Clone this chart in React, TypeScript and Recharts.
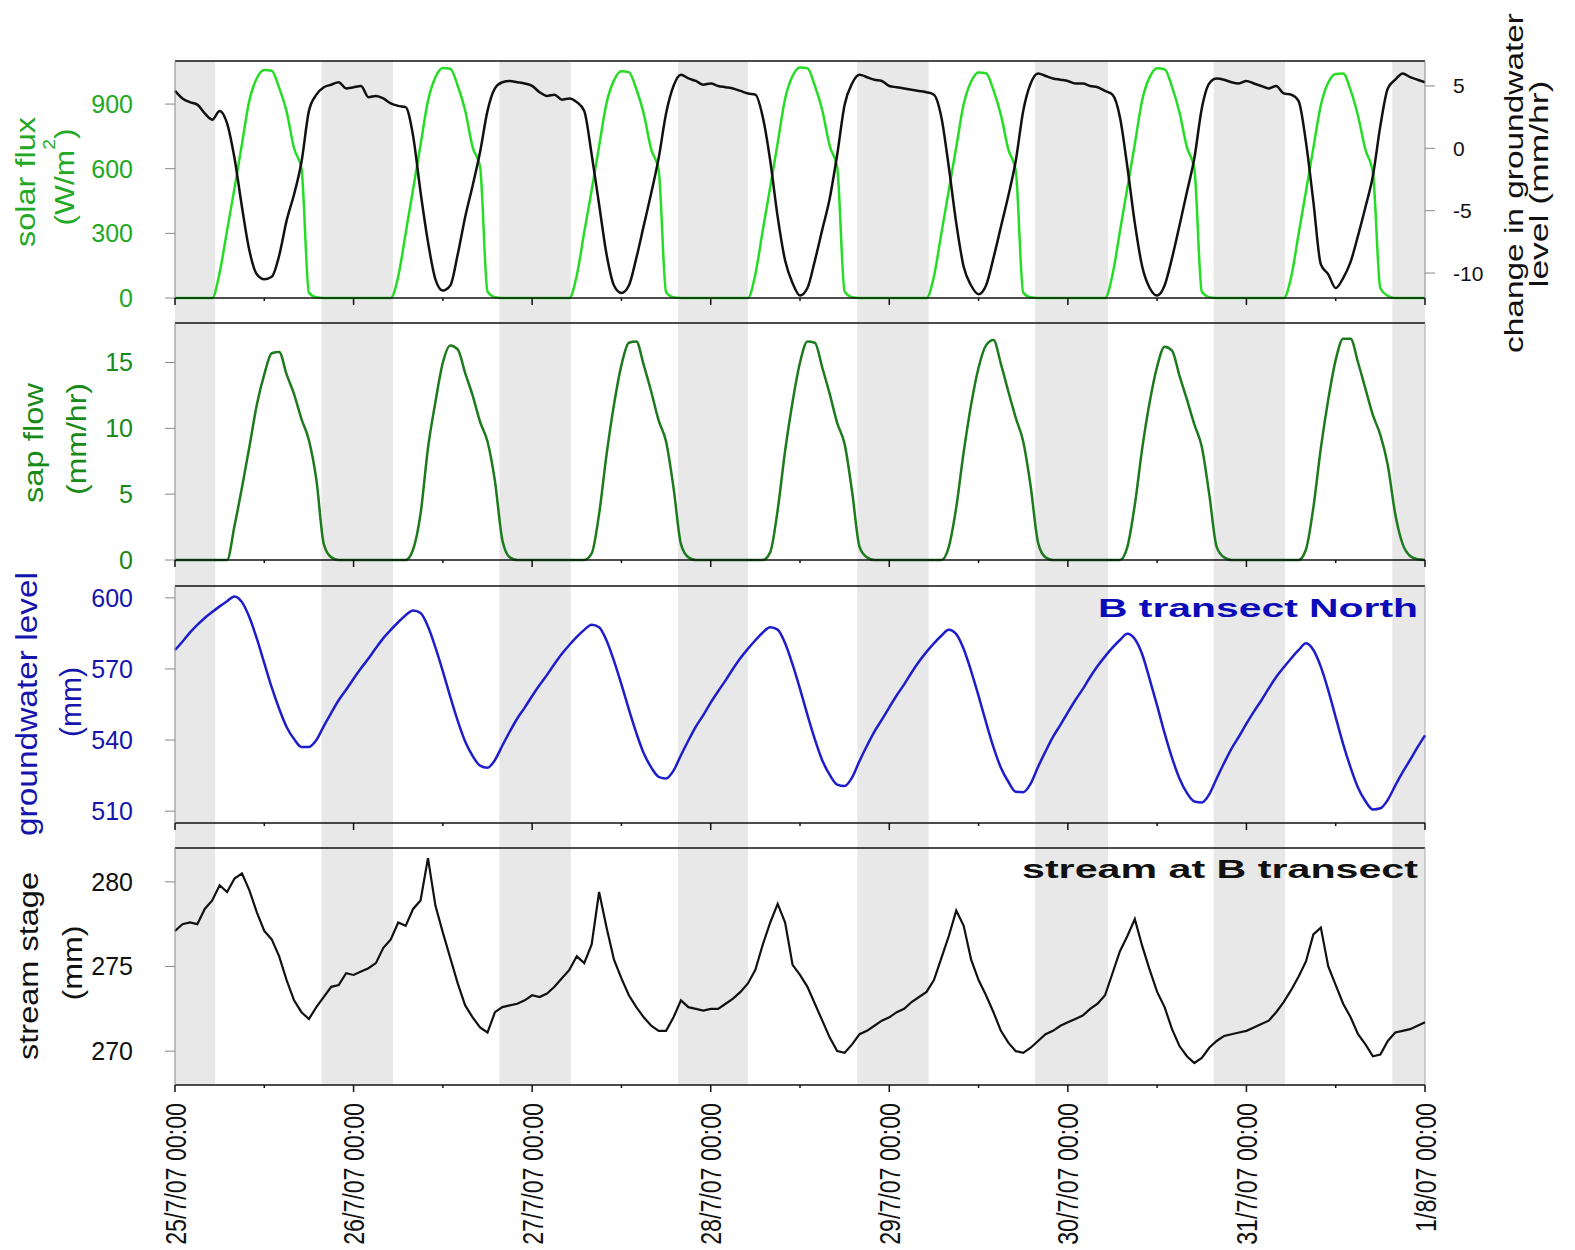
import React from "react"
import {
  Line,
  LineChart,
  ReferenceArea,
  ReferenceLine,
  XAxis,
  YAxis,
} from "recharts"

// Hourly samples from 25/7/07 00:00 to 1/8/07 00:00 (169 points, one row per day).
const solarFlux = [
  0, 0, 0, 0, 0, 0, 118, 314, 510, 715, 918, 1020, 1058, 1055, 975, 865, 695, 600, 25, 3, 0, 0, 0, 0,
  0, 0, 0, 0, 0, 0, 100, 300, 505, 710, 915, 1025, 1068, 1064, 985, 870, 700, 610, 30, 4, 0, 0, 0, 0,
  0, 0, 0, 0, 0, 0, 105, 305, 500, 705, 905, 1010, 1052, 1048, 970, 855, 690, 595, 28, 3, 0, 0, 0, 0,
  0, 0, 0, 0, 0, 0, 110, 315, 515, 720, 925, 1030, 1070, 1066, 985, 870, 705, 605, 30, 4, 0, 0, 0, 0,
  0, 0, 0, 0, 0, 0, 100, 300, 500, 700, 900, 1005, 1047, 1043, 965, 850, 690, 590, 25, 3, 0, 0, 0, 0,
  0, 0, 0, 0, 0, 0, 108, 310, 512, 715, 920, 1025, 1066, 1062, 980, 862, 700, 600, 30, 4, 0, 0, 0, 0,
  0, 0, 0, 0, 0, 0, 95, 295, 495, 698, 895, 1000, 1040, 1042, 965, 845, 688, 581, 45, 10, 0, 0, 0, 0,
  0,
]

// change in groundwater level, mm/hr
const gwChange = [
  4.6, 4.0, 3.7, 3.5, 2.8, 2.3, 3.0, 2.0, -0.8, -4.7, -8.2, -10.1, -10.5, -10.3, -8.6, -5.8, -3.7, -1.1, 3.0, 4.3, 4.9, 5.1, 5.3, 4.8,
  4.9, 5.0, 4.1, 4.2, 4.0, 3.6, 3.4, 3.3, 1.0, -3.5, -7.5, -10.5, -11.4, -11.0, -8.5, -5.5, -3.0, -0.3, 3.0, 4.8, 5.3, 5.4, 5.3, 5.2,
  5.0, 4.5, 4.2, 4.3, 3.9, 4.0, 3.7, 3.0, -0.5, -4.5, -8.5, -11.0, -11.6, -11.0, -8.8, -6.2, -3.6, -0.8, 2.8, 5.0, 5.9, 5.6, 5.4, 5.1,
  5.2, 5.0, 4.9, 4.8, 4.6, 4.4, 4.3, 2.5, -1.0, -5.5, -9.0, -10.8, -11.8, -11.2, -9.0, -6.5, -4.0, -0.5, 3.5, 5.2, 5.9, 5.7, 5.5, 5.4,
  5.0, 4.9, 4.8, 4.7, 4.6, 4.5, 4.3, 2.5, -1.5, -6.0, -9.5, -11.0, -11.7, -11.0, -8.8, -6.3, -3.8, -1.0, 3.0, 5.2, 6.0, 5.8, 5.6, 5.5,
  5.4, 5.2, 5.2, 5.0, 4.9, 4.6, 4.3, 2.5, -1.5, -6.0, -9.5, -11.2, -11.8, -11.0, -8.8, -6.2, -3.5, -0.8, 3.2, 5.2, 5.6, 5.5, 5.3, 5.2,
  5.4, 5.2, 5.0, 4.8, 5.0, 4.4, 4.3, 3.8, 0.5, -4.3, -9.3, -10.1, -11.2, -10.4, -9.1, -7.0, -4.7, -2.2, 1.8, 4.8, 5.5, 6.0, 5.7, 5.5,
  5.3,
]

// sap flow, mm/hr
const sapFlow = [
  0, 0, 0, 0, 0, 0, 0, 0, 2.6, 5.5, 8.6, 11.8, 14.1, 15.7, 15.8, 14.1, 12.6, 10.7, 9.1, 6.1, 1.2, 0.2, 0, 0,
  0, 0, 0, 0, 0, 0, 0, 0, 0.8, 3.5, 8.5, 12.0, 15.0, 16.3, 16.0, 14.2, 12.5, 10.5, 9.0, 6.0, 1.5, 0.2, 0, 0,
  0, 0, 0, 0, 0, 0, 0, 0, 0.5, 3.5, 8.0, 11.8, 14.8, 16.5, 16.6, 14.8, 12.8, 10.6, 9.0, 5.5, 1.2, 0.2, 0, 0,
  0, 0, 0, 0, 0, 0, 0, 0, 0.6, 3.8, 8.3, 12.0, 15.0, 16.6, 16.5, 14.6, 12.6, 10.4, 8.8, 5.2, 1.0, 0.2, 0, 0,
  0, 0, 0, 0, 0, 0, 0, 0, 1.0, 4.0, 8.2, 11.8, 14.6, 16.3, 16.7, 14.9, 12.8, 10.8, 9.0, 5.6, 1.3, 0.2, 0, 0,
  0, 0, 0, 0, 0, 0, 0, 0, 1.0, 4.2, 8.5, 12.0, 14.7, 16.2, 15.9, 14.0, 12.2, 10.3, 8.6, 5.0, 1.0, 0.2, 0, 0,
  0, 0, 0, 0, 0, 0, 0, 0, 0.8, 4.0, 8.5, 12.2, 15.2, 16.8, 16.8, 15.0, 13.0, 11.0, 9.5, 7.2, 3.5, 1.2, 0.3, 0.05,
  0,
]

// groundwater level, mm
const groundwater = [
  578.0, 581.5, 585.3, 588.6, 591.5, 594.0, 596.4, 598.6, 600.6, 598.2, 591.8, 582.8, 572.5, 562.2, 553.2, 545.5, 540.4, 537.1, 537.1, 540.0, 545.9, 551.5, 556.8, 561.2,
  565.9, 570.3, 574.4, 578.8, 583.0, 586.5, 589.7, 592.7, 594.7, 593.6, 587.9, 579.1, 569.0, 558.2, 548.1, 539.4, 533.3, 529.2, 528.3, 531.6, 537.7, 543.6, 549.1, 553.7,
  558.6, 563.2, 567.5, 572.1, 576.4, 580.1, 583.5, 586.5, 588.7, 587.6, 582.0, 573.4, 563.5, 552.9, 543.0, 534.4, 528.5, 524.5, 523.8, 527.1, 533.6, 539.8, 545.7, 550.5,
  555.8, 560.6, 565.2, 570.1, 574.6, 578.5, 582.1, 585.4, 587.6, 586.6, 580.8, 571.9, 561.6, 550.6, 540.3, 531.4, 525.3, 521.2, 520.6, 524.2, 531.2, 537.6, 543.6, 548.6,
  553.8, 558.9, 563.5, 568.5, 573.1, 577.2, 580.8, 584.0, 586.5, 584.7, 578.4, 569.1, 558.6, 547.5, 537.0, 528.3, 522.4, 518.2, 518.0, 521.6, 528.7, 535.2, 541.3, 546.4,
  551.7, 556.8, 561.5, 566.6, 571.2, 575.3, 579.0, 582.2, 584.8, 582.6, 576.1, 565.6, 554.5, 542.9, 532.5, 523.8, 517.7, 514.1, 513.7, 517.1, 523.8, 530.3, 536.4, 541.5,
  546.9, 552.0, 556.7, 561.8, 566.6, 570.6, 574.4, 577.9, 580.8, 578.0, 570.9, 561.0, 549.6, 538.3, 528.4, 519.9, 514.2, 510.7, 511.2, 514.8, 520.8, 526.5, 531.6, 537.0,
  542.0,
]

// stream stage, mm
const streamStage = [
  277.1, 277.5, 277.6, 277.5, 278.4, 278.9, 279.8, 279.4, 280.2, 280.5, 279.5, 278.2, 277.1, 276.6, 275.6, 274.2, 273.0, 272.3, 271.9, 272.6, 273.2, 273.8, 273.9, 274.6,
  274.5, 274.7, 274.9, 275.2, 276.1, 276.6, 277.6, 277.4, 278.4, 278.9, 281.4, 278.6, 277.0, 275.5, 274.0, 272.7, 272.0, 271.4, 271.1, 272.3, 272.6, 272.7, 272.8, 273.0,
  273.3, 273.2, 273.4, 273.8, 274.3, 274.8, 275.6, 275.2, 276.3, 279.4, 277.3, 275.4, 274.3, 273.3, 272.6, 272.0, 271.5, 271.2, 271.2, 272.0, 273.0, 272.6, 272.5, 272.4,
  272.5, 272.5, 272.8, 273.1, 273.5, 274.0, 274.8, 276.3, 277.6, 278.7, 277.6, 275.1, 274.5, 273.8, 272.8, 271.8, 270.8, 270.0, 269.9, 270.4, 271.0, 271.2, 271.5, 271.8,
  272.0, 272.3, 272.5, 272.9, 273.2, 273.5, 274.2, 275.5, 276.8, 278.3, 277.4, 275.4, 274.2, 273.3, 272.3, 271.2, 270.5, 270.0, 269.9, 270.2, 270.6, 271.0, 271.2, 271.5,
  271.7, 271.9, 272.1, 272.5, 272.8, 273.3, 274.6, 275.9, 276.8, 277.8, 276.2, 274.8, 273.5, 272.6, 271.3, 270.3, 269.7, 269.3, 269.6, 270.2, 270.6, 270.9, 271.0, 271.1,
  271.2, 271.4, 271.6, 271.8, 272.3, 272.9, 273.6, 274.4, 275.3, 276.9, 277.3, 275.0, 273.9, 272.8, 272.0, 271.0, 270.4, 269.7, 269.8, 270.6, 271.1, 271.2, 271.3, 271.5,
  271.7,
]

// night periods (hours from the start), shaded grey behind every panel
const nightStart = [0, 19.7, 43.6, 67.6, 91.7, 115.6, 139.6, 163.6]
const nightEnd = [5.4, 29.3, 53.2, 77.0, 101.3, 125.4, 149.2, 168]

const dayTicks = [0, 24, 48, 72, 96, 120, 144, 168]
const dayLabels = [
  "25/7/07 00:00",
  "26/7/07 00:00",
  "27/7/07 00:00",
  "28/7/07 00:00",
  "29/7/07 00:00",
  "30/7/07 00:00",
  "31/7/07 00:00",
  "1/8/07 00:00",
]
const halfDayTicks = [0, 12, 24, 36, 48, 60, 72, 84, 96, 108, 120, 132, 144, 156, 168]

const rows = solarFlux.map((solar, h) => ({
  h,
  solar,
  dgw: gwChange[h],
  sap: sapFlow[h],
  gw: groundwater[h],
  stage: streamStage[h],
}))

const W = 1575
const PLOT_L = 175
const PLOT_R = 1425
const PLOT_H = 237
const PAD = 6
const AXIS_H = 30
const TOPS = [61, 323, 586, 848]
const AXIS_W = 60
const FONT = "Arial, 'Liberation Sans', Helvetica, sans-serif"
const NIGHT = "#e8e8e8"

const GREEN = "#22a822"
const DARK_GREEN = "#178a17"
const BLUE = "#1515ad"
const INK = "#111"

// pixels between the bottom of panel i and the top of the next one
const gapBelow = (i: number) => (i < TOPS.length - 1 ? TOPS[i + 1] - TOPS[i] - PLOT_H + 1 : 0)

function TimeTick(props: any) {
  const { x, y, payload, labelled } = props
  const major = payload.value % 24 === 0
  const idx = dayTicks.indexOf(payload.value)
  return (
    <g>
      <line x1={x} x2={x} y1={y} y2={y + (major ? 7 : 3)} stroke={INK} strokeWidth={1.5} />
      {labelled && major && (
        <text
          transform={`translate(${x + 10.5},${y + 18}) rotate(-90) scale(0.8,1)`}
          textAnchor="end"
          fontSize={29}
          fill={INK}
        >
          {dayLabels[idx]}
        </text>
      )}
    </g>
  )
}

function timeAxis(labelled: boolean) {
  return (
    <XAxis
      type="number"
      dataKey="h"
      domain={[0, 168]}
      ticks={halfDayTicks}
      interval={0}
      height={labelled ? 170 : AXIS_H}
      axisLine={{ stroke: INK, strokeWidth: 1.5 }}
      tickLine={false}
      tickSize={0}
      tickMargin={0}
      tick={(p: any) => <TimeTick {...p} labelled={labelled} />}
    />
  )
}

function leftAxis(domain: number[], ticks: number[], color: string) {
  return (
    <YAxis
      yAxisId="l"
      domain={domain}
      ticks={ticks}
      interval={0}
      width={AXIS_W}
      axisLine={{ stroke: "#888" }}
      tickLine={{ stroke: "#888" }}
      tickSize={10}
      tickMargin={32}
      tick={{ fill: color, fontSize: 25 }}
    />
  )
}

// night bands of one panel; they run on down through the gap to the next panel
function nightBands(domain: number[], panel: number) {
  const [min, max] = domain
  const extra = ((max - min) * gapBelow(panel)) / PLOT_H
  return nightStart.map((s, i) => (
    <ReferenceArea
      key={`n${i}`}
      yAxisId="l"
      x1={s}
      x2={nightEnd[i]}
      y1={min - extra}
      y2={max}
      fill={NIGHT}
      fillOpacity={1}
      stroke="none"
      ifOverflow="visible"
    />
  ))
}

function Title({ x, y, len, size, color, children }: any) {
  return (
    <text
      transform={`translate(${x},${y}) rotate(-90)`}
      textAnchor="middle"
      fontSize={size}
      fill={color}
      textLength={len}
      lengthAdjust="spacingAndGlyphs"
    >
      {children}
    </text>
  )
}

const solarDomain = [0, 1100]
const sapDomain = [0, 18]
const gwDomain = [505, 605]
const stageDomain = [268, 282]

export default function App() {
  const chartBox = (top: number) => ({
    position: "absolute" as const,
    left: 0,
    top: top - PAD,
  })
  const lineProps = {
    type: "monotone" as const,
    dot: false,
    isAnimationActive: false,
    strokeWidth: 2.5,
  }

  return (
    <div
      style={{
        position: "absolute",
        left: 0,
        top: 0,
        width: W,
        height: 1250,
        background: "#fff",
        fontFamily: FONT,
        overflow: "hidden",
      }}
    >
      {/* solar flux + change in groundwater level */}
      <div style={chartBox(TOPS[0])}>
        <LineChart
          width={W}
          height={PAD + PLOT_H + AXIS_H}
          data={rows}
          margin={{ top: PAD, right: W - PLOT_R - AXIS_W, bottom: 0, left: PLOT_L - AXIS_W }}
        >
          {nightBands(solarDomain, 0)}
          {timeAxis(false)}
          {leftAxis(solarDomain, [0, 300, 600, 900], GREEN)}
          <YAxis
            yAxisId="r"
            orientation="right"
            domain={[-12, 7]}
            ticks={[-10, -5, 0, 5]}
            interval={0}
            width={AXIS_W}
            axisLine={{ stroke: "#888" }}
            tickLine={{ stroke: "#888" }}
            tickSize={10}
            tickMargin={18}
            tick={{ fill: INK, fontSize: 21 }}
          />
          <ReferenceLine yAxisId="l" y={solarDomain[1]} stroke={INK} strokeWidth={1.5} />
          <Line {...lineProps} yAxisId="l" dataKey="solar" stroke="#26dc26" />
          <Line {...lineProps} yAxisId="r" dataKey="dgw" stroke={INK} />
        </LineChart>
      </div>

      {/* sap flow */}
      <div style={chartBox(TOPS[1])}>
        <LineChart
          width={W}
          height={PAD + PLOT_H + AXIS_H}
          data={rows}
          margin={{ top: PAD, right: W - PLOT_R, bottom: 0, left: PLOT_L - AXIS_W }}
        >
          {nightBands(sapDomain, 1)}
          {timeAxis(false)}
          {leftAxis(sapDomain, [0, 5, 10, 15], DARK_GREEN)}
          <ReferenceLine yAxisId="l" y={sapDomain[1]} stroke={INK} strokeWidth={1.5} />
          <ReferenceLine yAxisId="l" x={168} stroke="#aaa" />
          <Line {...lineProps} yAxisId="l" dataKey="sap" stroke="#1d7a1d" />
        </LineChart>
      </div>

      {/* groundwater level */}
      <div style={chartBox(TOPS[2])}>
        <LineChart
          width={W}
          height={PAD + PLOT_H + AXIS_H}
          data={rows}
          margin={{ top: PAD, right: W - PLOT_R, bottom: 0, left: PLOT_L - AXIS_W }}
        >
          {nightBands(gwDomain, 2)}
          {timeAxis(false)}
          {leftAxis(gwDomain, [510, 540, 570, 600], BLUE)}
          <ReferenceLine yAxisId="l" y={gwDomain[1]} stroke={INK} strokeWidth={1.5} />
          <ReferenceLine yAxisId="l" x={168} stroke="#aaa" />
          <Line {...lineProps} yAxisId="l" dataKey="gw" stroke="#1d1dcc" />
        </LineChart>
      </div>

      {/* stream stage */}
      <div style={chartBox(TOPS[3])}>
        <LineChart
          width={W}
          height={PAD + PLOT_H + 170}
          data={rows}
          margin={{ top: PAD, right: W - PLOT_R, bottom: 0, left: PLOT_L - AXIS_W }}
        >
          {nightBands(stageDomain, 3)}
          {timeAxis(true)}
          {leftAxis(stageDomain, [270, 275, 280], INK)}
          <ReferenceLine yAxisId="l" y={stageDomain[1]} stroke={INK} strokeWidth={1.5} />
          <ReferenceLine yAxisId="l" x={168} stroke="#aaa" />
          <Line {...lineProps} type="linear" strokeWidth={2.2} yAxisId="l" dataKey="stage" stroke={INK} />
        </LineChart>
      </div>

      {/* axis titles and panel captions */}
      <svg
        width={W}
        height={1250}
        style={{ position: "absolute", left: 0, top: 0, pointerEvents: "none" }}
      >
        <Title x={35} y={182} len={130} size={28} color={GREEN}>solar flux</Title>
        <Title x={74} y={177} len={97} size={28} color={GREEN}>
          (W/m<tspan dy={-19} fontSize={17}>2</tspan>
          <tspan dy={19}>)</tspan>
        </Title>

        <Title x={43} y={443} len={120} size={27} color={DARK_GREEN}>sap flow</Title>
        <Title x={86} y={439} len={112} size={27} color={DARK_GREEN}>(mm/hr)</Title>

        <Title x={37} y={704} len={264} size={29} color={BLUE}>groundwater level</Title>
        <Title x={81} y={702} len={70} size={29} color={BLUE}>(mm)</Title>

        <Title x={37.5} y={966} len={188} size={27} color={INK}>stream stage</Title>
        <Title x={81.5} y={963} len={75} size={27} color={INK}>(mm)</Title>

        <Title x={1523} y={183} len={340} size={25} color={INK}>change in groundwater</Title>
        <Title x={1548} y={184} len={207} size={25} color={INK}>level (mm/hr)</Title>

        <text
          x={1098}
          y={616.5}
          fontSize={25}
          fontWeight="bold"
          fill="#0b0bb8"
          textLength={320}
          lengthAdjust="spacingAndGlyphs"
        >
          B transect North
        </text>
        <text
          x={1022}
          y={878}
          fontSize={25}
          fontWeight="bold"
          fill={INK}
          textLength={396}
          lengthAdjust="spacingAndGlyphs"
        >
          stream at B transect
        </text>
      </svg>
    </div>
  )
}
